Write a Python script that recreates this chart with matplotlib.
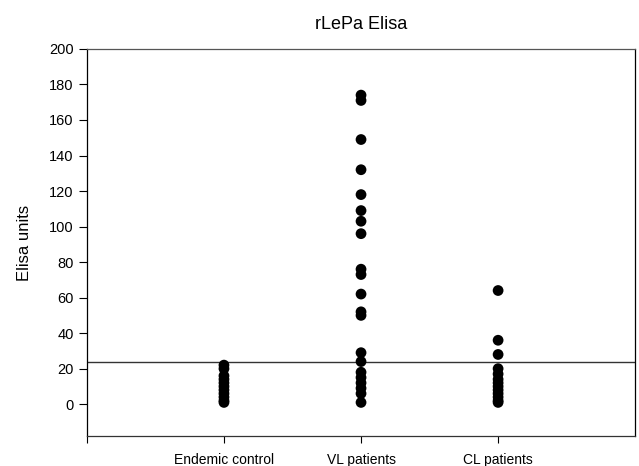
import matplotlib
matplotlib.use("Agg")
import matplotlib.pyplot as plt

plt.rcParams['font.family'] = ['Liberation Sans', 'DejaVu Sans']

groups = ["Endemic control", "VL patients", "CL patients"]
endemic = [22, 20, 16, 14, 12, 10, 8, 6, 4, 2, 1]
vl = [174, 171, 149, 132, 118, 109, 103, 96, 76, 73, 62, 52, 50,
      29, 24, 18, 15, 12, 9, 6, 1]
cl = [64, 36, 28, 20, 17, 14, 12, 10, 8, 6, 4, 2, 1]
cutoff = 23.6
yticks = list(range(0, 201, 20))


def main():
    fig = plt.figure(figsize=(6.39, 4.66), dpi=100)
    ax = fig.add_axes([0.136, 0.064, 0.858, 0.831])

    for i, vals in enumerate([endemic, vl, cl]):
        ax.scatter([i + 1] * len(vals), vals, s=60, color="black",
                   edgecolors="none", zorder=3)

    ax.axhline(cutoff, color="#333333", lw=1.0, zorder=2)

    ax.set_xlim(0, 4)
    ax.set_ylim(-18, 200)
    ax.set_yticks(yticks)
    ax.set_xticks([0, 1, 2, 3])
    ax.set_xticklabels([""] + groups)
    ax.tick_params(axis="y", direction="out", length=6, width=0.8,
                   labelsize=10.5)
    ax.tick_params(axis="x", direction="out", length=5, width=0.8,
                   labelsize=10, pad=7)
    for side in ["top", "right", "left", "bottom"]:
        ax.spines[side].set_linewidth(0.9)
    ax.spines["top"].set_color("#555555")
    ax.spines["bottom"].set_color("#333333")

    ax.set_ylabel("Elisa units", fontsize=12, labelpad=12)
    ax.set_title("rLePa Elisa", fontsize=13, pad=14)

    fig.savefig("out.png", dpi=100)


if __name__ == '__main__':
    main()
